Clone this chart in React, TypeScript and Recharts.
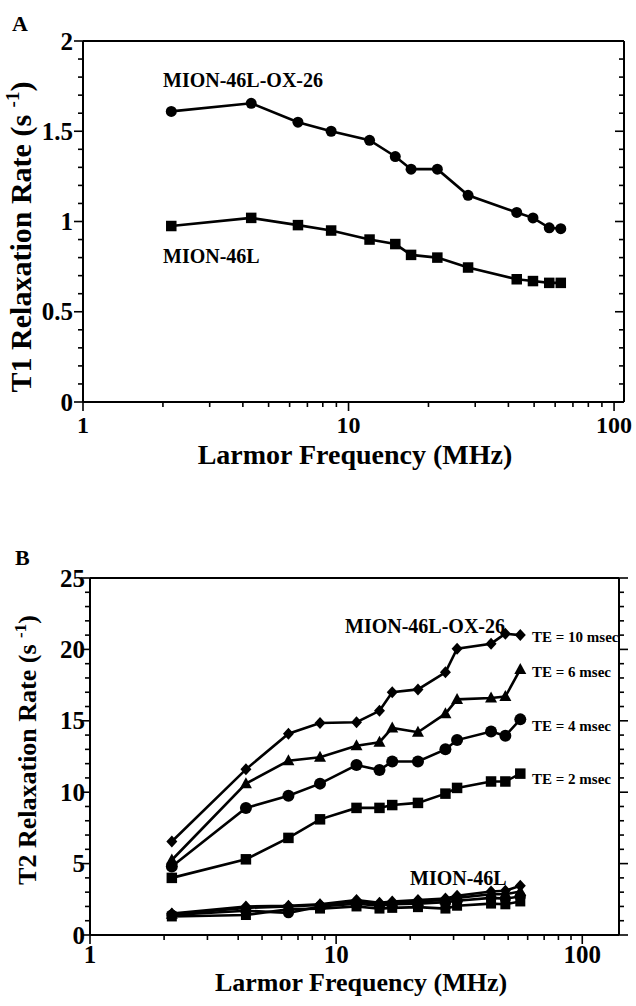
import { LineChart, Line, XAxis, YAxis } from 'recharts'

// ---- panel A: T1 relaxation rate vs Larmor frequency
const A_FREQ = [2.15, 4.3, 6.45, 8.6, 12, 15, 17.2, 21.6, 28.2, 43, 49.5, 57, 63]
const A_OX26 = [1.61, 1.655, 1.55, 1.5, 1.45, 1.36, 1.29, 1.29, 1.145, 1.05, 1.02, 0.965, 0.96]
const A_46L = [0.975, 1.02, 0.98, 0.95, 0.9, 0.875, 0.815, 0.8, 0.745, 0.68, 0.67, 0.66, 0.66]

// ---- panel B: T2 relaxation rate, four echo times
const B_FREQ = [2.15, 4.3, 6.4, 8.6, 12.1, 15, 16.9, 21.5, 27.8, 31, 42.6, 48.7, 56]
const B_OX_TE10 = [6.55, 11.6, 14.1, 14.85, 14.9, 15.7, 17.0, 17.2, 18.4, 20.05, 20.4, 21.1, 21.0]
const B_OX_TE6 = [5.25, 10.6, 12.2, 12.45, 13.25, 13.5, 14.5, 14.2, 15.5, 16.5, 16.6, 16.7, 18.6]
const B_OX_TE4 = [4.8, 8.9, 9.75, 10.6, 11.9, 11.55, 12.15, 12.15, 13.0, 13.65, 14.25, 13.95, 15.1]
const B_OX_TE2 = [4.0, 5.3, 6.8, 8.1, 8.9, 8.9, 9.1, 9.25, 9.9, 10.3, 10.75, 10.75, 11.3]
const B_L_TE10 = [1.5, 2.0, 2.05, 2.15, 2.45, 2.25, 2.35, 2.45, 2.55, 2.75, 3.05, 3.1, 3.45]
const B_L_TE6 = [1.45, 1.9, 2.0, 2.1, 2.35, 2.15, 2.25, 2.35, 2.45, 2.6, 2.85, 2.85, 3.05]
const B_L_TE4 = [1.4, 1.7, 1.55, 2.0, 2.2, 2.05, 2.15, 2.2, 2.3, 2.4, 2.6, 2.55, 2.7]
const B_L_TE2 = [1.3, 1.4, 1.8, 1.85, 2.0, 1.85, 1.9, 1.95, 1.85, 2.05, 2.2, 2.15, 2.35]

// ---- ticks
const X_MAJOR = [1, 10, 100]
const X_TICKS = [1, 2, 3, 4, 5, 6, 7, 8, 9, 10, 20, 30, 40, 50, 60, 70, 80, 90, 100]
const A_Y_MAJOR = [0, 0.5, 1, 1.5, 2]
const A_Y_TICKS = [0, 0.1, 0.2, 0.3, 0.4, 0.5, 0.6, 0.7, 0.8, 0.9, 1, 1.1, 1.2, 1.3, 1.4, 1.5, 1.6, 1.7, 1.8, 1.9, 2]
const B_Y_MAJOR = [0, 5, 10, 15, 20, 25]
const B_Y_TICKS = [0, 1, 2, 3, 4, 5, 6, 7, 8, 9, 10, 11, 12, 13, 14, 15, 16, 17, 18, 19, 20, 21, 22, 23, 24, 25]

const dataA = A_FREQ.map((f, i) => ({ f, ox: A_OX26[i], l: A_46L[i] }))
const dataB = B_FREQ.map((f, i) => ({
  f,
  o10: B_OX_TE10[i], o6: B_OX_TE6[i], o4: B_OX_TE4[i], o2: B_OX_TE2[i],
  l10: B_L_TE10[i], l6: B_L_TE6[i], l4: B_L_TE4[i], l2: B_L_TE2[i],
}))

const FONT = "'Liberation Serif', 'Times New Roman', serif"
const txt = { fontFamily: FONT, fontWeight: 700, fill: '#000' }

// markers
const circle = (r: number) => (p: any) => <circle key={`c${p.index}`} cx={p.cx} cy={p.cy} r={r} fill="#000" />
const square = (s: number) => (p: any) => (
  <rect key={`s${p.index}`} x={p.cx - s / 2} y={p.cy - s / 2} width={s} height={s} fill="#000" />
)
const diamond = (p: any) => (
  <polygon key={`d${p.index}`} points={`${p.cx},${p.cy - 6} ${p.cx + 5.5},${p.cy} ${p.cx},${p.cy + 6} ${p.cx - 5.5},${p.cy}`} fill="#000" />
)
const triangle = (p: any) => (
  <polygon key={`t${p.index}`} points={`${p.cx},${p.cy - 6.5} ${p.cx + 6},${p.cy + 4.5} ${p.cx - 6},${p.cy + 4.5}`} fill="#000" />
)

// tick renderers (tickSize=0, tickMargin=0 so x/y sit on the axis line)
function xTick(side: 'top' | 'bottom', fontSize: number, gap: number) {
  return (p: any) => {
    const v = p.payload.value
    const major = X_MAJOR.includes(v)
    const len = major ? 9 : 5
    const dir = side === 'bottom' ? 1 : -1
    return (
      <g>
        <line x1={p.x} x2={p.x} y1={p.y} y2={p.y + dir * len} stroke="#000" strokeWidth={1.6} />
        {side === 'bottom' && major && (
          <text x={p.x} y={p.y + gap} textAnchor="middle" fontSize={fontSize} style={txt}>{v}</text>
        )}
      </g>
    )
  }
}

function yTick(side: 'left' | 'right', majors: number[], fontSize: number, gap: number, inward = false) {
  return (p: any) => {
    const v = p.payload.value
    const major = majors.includes(v)
    const len = major ? 9 : 5
    let dir = side === 'left' ? -1 : 1
    if (inward) dir = -dir
    return (
      <g>
        <line x1={p.x} x2={p.x + dir * len} y1={p.y} y2={p.y} stroke="#000" strokeWidth={1.6} />
        {side === 'left' && major && (
          <text x={p.x - gap} y={p.y + fontSize * 0.34} textAnchor="end" fontSize={fontSize} style={txt}>{v}</text>
        )}
      </g>
    )
  }
}

const axisLine = { stroke: '#000', strokeWidth: 2 }

function PanelA() {
  return (
    <LineChart width={636} height={470} data={dataA} margin={{ top: 40, right: 11, left: 43, bottom: 8 }}>
      <XAxis xAxisId="b" dataKey="f" type="number" scale="log" domain={[1, 109]} allowDataOverflow
        ticks={X_TICKS} interval={0} tickSize={0} tickMargin={0} height={60}
        axisLine={axisLine} tickLine={false} tick={xTick('bottom', 24, 31)} />
      <XAxis xAxisId="t" orientation="top" type="number" scale="log" domain={[1, 109]} allowDataOverflow
        ticks={X_TICKS} interval={0} tickSize={0} tickMargin={0} height={1}
        axisLine={axisLine} tickLine={false} tick={xTick('top', 24, 0)} />
      <YAxis yAxisId="l" type="number" domain={[0, 2]} allowDataOverflow ticks={A_Y_TICKS} interval={0}
        tickSize={0} tickMargin={0} width={40} axisLine={axisLine} tickLine={false}
        tick={yTick('left', A_Y_MAJOR, 25, 10)} />
      <YAxis yAxisId="r" orientation="right" type="number" domain={[0, 2]} allowDataOverflow ticks={A_Y_TICKS}
        interval={0} tickSize={0} tickMargin={0} width={1} axisLine={axisLine} tickLine={false}
        tick={yTick('right', A_Y_MAJOR, 25, 0, true)} />
      <Line xAxisId="b" yAxisId="l" dataKey="ox" type="linear" stroke="#000" strokeWidth={2.6}
        dot={circle(5.5)} activeDot={false} isAnimationActive={false} />
      <Line xAxisId="b" yAxisId="l" dataKey="l" type="linear" stroke="#000" strokeWidth={2.6}
        dot={square(10.5)} activeDot={false} isAnimationActive={false} />
    </LineChart>
  )
}

function PanelB() {
  const series: [string, any][] = [
    ['o10', diamond], ['o6', triangle], ['o4', circle(6)], ['o2', square(10.5)],
    ['l10', diamond], ['l6', triangle], ['l4', circle(5.5)], ['l2', square(10)],
  ]
  return (
    <LineChart width={636} height={526} data={dataB} margin={{ top: 97, right: 16, left: 50, bottom: 11 }}>
      <XAxis xAxisId="b" dataKey="f" type="number" scale="log" domain={[1, 141]} allowDataOverflow
        ticks={X_TICKS} interval={0} tickSize={0} tickMargin={0} height={60}
        axisLine={axisLine} tickLine={false} tick={xTick('bottom', 25, 28)} />
      <XAxis xAxisId="t" orientation="top" type="number" scale="log" domain={[1, 141]} allowDataOverflow
        ticks={X_TICKS} interval={0} tickSize={0} tickMargin={0} height={1}
        axisLine={axisLine} tickLine={false} tick={xTick('top', 25, 0)} />
      <YAxis yAxisId="l" type="number" domain={[0, 25]} allowDataOverflow ticks={B_Y_TICKS} interval={0}
        tickSize={0} tickMargin={0} width={40} axisLine={axisLine} tickLine={false}
        tick={yTick('left', B_Y_MAJOR, 25, 5)} />
      <YAxis yAxisId="r" orientation="right" type="number" domain={[0, 25]} allowDataOverflow ticks={B_Y_TICKS}
        interval={0} tickSize={0} tickMargin={0} width={1} axisLine={axisLine} tickLine={false}
        tick={yTick('right', B_Y_MAJOR, 25, 0)} />
      {series.map(([k, dot]) => (
        <Line key={k} xAxisId="b" yAxisId="l" dataKey={k} type="linear" stroke="#000" strokeWidth={2.6}
          dot={dot} activeDot={false} isAnimationActive={false} />
      ))}
    </LineChart>
  )
}

export default function App() {
  return (
    <div style={{ position: 'absolute', left: 0, top: 0, width: 636, height: 1006, background: '#fff' }}>
      <div style={{ position: 'absolute', left: 0, top: 0 }}><PanelA /></div>
      <div style={{ position: 'absolute', left: 0, top: 480 }}><PanelB /></div>
      <svg width={636} height={1006} style={{ position: 'absolute', left: 0, top: 0, pointerEvents: 'none' }}>
        <text x={12} y={31} fontSize={22} style={txt}>A</text>
        <text x={15} y={565} fontSize={22} style={txt}>B</text>

        <text x={163} y={87} fontSize={20} style={txt}>MION-46L-OX-26</text>
        <text x={163} y={263} fontSize={20} style={txt}>MION-46L</text>

        <text x={355} y={464} fontSize={28} textAnchor="middle" style={txt}>Larmor Frequency (MHz)</text>
        <text x={31} y={237} fontSize={30} textAnchor="middle" transform="rotate(-90 31 237)" style={txt}>
          T1 Relaxation Rate (s <tspan fontSize={19} dy={-12}>-1</tspan><tspan dy={12}>)</tspan>
        </text>

        <text x={345} y={633} fontSize={20} style={txt}>MION-46L-OX-26</text>
        <text x={410} y={885} fontSize={20} style={txt}>MION-46L</text>
        <text x={532} y={642} fontSize={15} style={txt}>TE = 10 msec</text>
        <text x={532} y={677} fontSize={15} style={txt}>TE = 6 msec</text>
        <text x={532} y={731} fontSize={15} style={txt}>TE = 4 msec</text>
        <text x={532} y={784} fontSize={15} style={txt}>TE = 2 msec</text>

        <text x={361} y={991} fontSize={26} textAnchor="middle" style={txt}>Larmor Frequency (MHz)</text>
        <text x={36} y={750} fontSize={26} textAnchor="middle" transform="rotate(-90 36 750)" style={txt}>
          T2 Relaxation Rate (s <tspan fontSize={17} dy={-10}>-1</tspan><tspan dy={10}>)</tspan>
        </text>
      </svg>
    </div>
  )
}
